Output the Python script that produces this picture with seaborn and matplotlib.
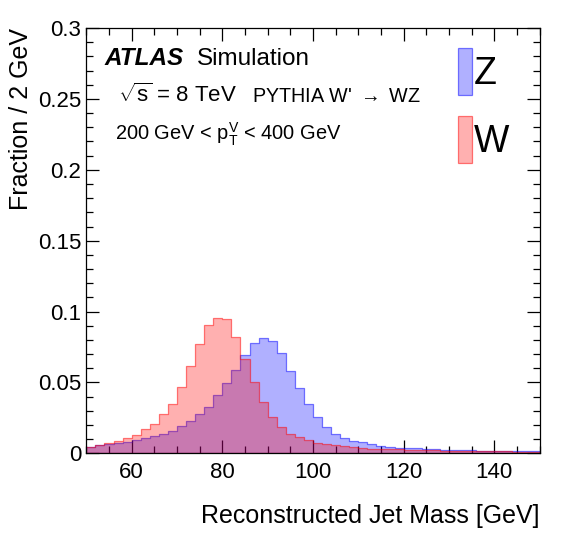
import matplotlib
matplotlib.use("Agg")
import matplotlib.pyplot as plt
from matplotlib.ticker import MultipleLocator, FuncFormatter
import seaborn as sns
import numpy as np
import pandas as pd

# 2 GeV bins from 50 to 150 GeV
bin_centers = np.arange(51, 150, 2)

z_frac = [0.0047, 0.0056, 0.0065, 0.0073, 0.0080, 0.0091, 0.0105, 0.0120, 0.0136, 0.0155,
          0.0190, 0.0226, 0.0276, 0.0326, 0.0408, 0.0497, 0.0591, 0.0692, 0.0775, 0.0812,
          0.0791, 0.0711, 0.0577, 0.0458, 0.0345, 0.0254, 0.0183, 0.0134, 0.0106, 0.0085,
          0.0077, 0.0063, 0.0054, 0.0047, 0.0040, 0.0037, 0.0035, 0.0030, 0.0028, 0.0026,
          0.0025, 0.0023, 0.0021, 0.0019, 0.0018, 0.0017, 0.0016, 0.0015, 0.0014, 0.0013]
w_frac = [0.0047, 0.0056, 0.0070, 0.0085, 0.0105, 0.0127, 0.0169, 0.0204, 0.0275, 0.0345,
          0.0465, 0.0615, 0.0768, 0.0908, 0.0951, 0.0944, 0.0817, 0.0662, 0.0504, 0.0359,
          0.0258, 0.0187, 0.0134, 0.0113, 0.0091, 0.0073, 0.0063, 0.0056, 0.0049, 0.0042,
          0.0035, 0.0033, 0.0028, 0.0028, 0.0027, 0.0023, 0.0023, 0.0022, 0.0021, 0.0019,
          0.0018, 0.0017, 0.0016, 0.0016, 0.0015, 0.0014, 0.0013, 0.0012, 0.0012, 0.0011]

z_df = pd.DataFrame({'mass': bin_centers, 'frac': z_frac})
w_df = pd.DataFrame({'mass': bin_centers, 'frac': w_frac})

sns.set_style("ticks")
plt.rcParams['font.family'] = ['Liberation Sans', 'DejaVu Sans']
plt.rcParams['mathtext.fontset'] = 'custom'
plt.rcParams['mathtext.rm'] = 'Liberation Sans'
plt.rcParams['mathtext.it'] = 'Liberation Sans:italic'
for k in ['text.color', 'axes.labelcolor', 'xtick.color', 'ytick.color', 'axes.edgecolor']:
    plt.rcParams[k] = 'black'

fig = plt.figure(figsize=(5.68, 5.40), dpi=100)
ax = fig.add_axes([0.152, 0.1606, 0.798, 0.7874])

sns.histplot(data=z_df, x='mass', weights='frac', binwidth=2, binrange=(50, 150),
             element='step', fill=True, ax=ax,
             facecolor=(0, 0, 1, 0.31), edgecolor=(0, 0, 1, 0.5), linewidth=0.9, label='Z')
sns.histplot(data=w_df, x='mass', weights='frac', binwidth=2, binrange=(50, 150),
             element='step', fill=True, ax=ax,
             facecolor=(1, 0, 0, 0.31), edgecolor=(1, 0, 0, 0.5), linewidth=0.9, label='W')

ax.set_xlim(50, 150)
ax.set_ylim(0, 0.3)
ax.xaxis.set_major_locator(MultipleLocator(20))
ax.xaxis.set_minor_locator(MultipleLocator(5))
ax.yaxis.set_major_locator(MultipleLocator(0.05))
ax.yaxis.set_minor_locator(MultipleLocator(0.01))
ax.yaxis.set_major_formatter(FuncFormatter(lambda v, p: '%g' % round(v, 3)))
ax.tick_params(which='both', direction='in', top=True, right=True, width=0.9, color='black')
ax.tick_params(which='major', length=9.5, labelsize=16)
ax.tick_params(axis='x', which='major', pad=6)
ax.tick_params(axis='y', which='major', pad=3.5)
ax.tick_params(which='minor', length=4.7)
for s in ax.spines.values():
    s.set_linewidth(0.9)

ax.set_xlabel('Reconstructed Jet Mass [GeV]', fontsize=18, loc='right')
ax.xaxis.label.set_va('baseline')
ax.xaxis.set_label_coords(1.0, -0.164)
ax.set_ylabel('Fraction / 2 GeV', fontsize=18, loc='top')
ax.yaxis.label.set_va('baseline')
ax.yaxis.set_label_coords(-0.128, 1.0)

ax.text(0.041, 0.913, 'ATLAS', transform=ax.transAxes, fontsize=17.5,
        fontweight='bold', fontstyle='italic', va='baseline')
ax.text(0.2433, 0.913, 'Simulation', transform=ax.transAxes, fontsize=17.5, va='baseline')
ax.text(0.0697, 0.8267, r'$\sqrt{\mathregular{s}}$ = 8 TeV', transform=ax.transAxes,
        fontsize=16, va='baseline')
ax.text(0.3653, 0.8267, r"PYTHIA W' $\rightarrow$ WZ", transform=ax.transAxes,
        fontsize=14.2, va='baseline')
ax.text(0.0631, 0.7367, r'200 GeV < $\mathregular{p_T^V}$ < 400 GeV', transform=ax.transAxes,
        fontsize=14.4, va='baseline')

ax.legend(loc='upper left', bbox_to_anchor=(0.819, 0.952), frameon=False, fontsize=27,
          handlelength=0.39, handleheight=1.55, handletextpad=0.05, labelspacing=0.56,
          borderpad=0, borderaxespad=0)

fig.savefig('out.png', dpi=100)
